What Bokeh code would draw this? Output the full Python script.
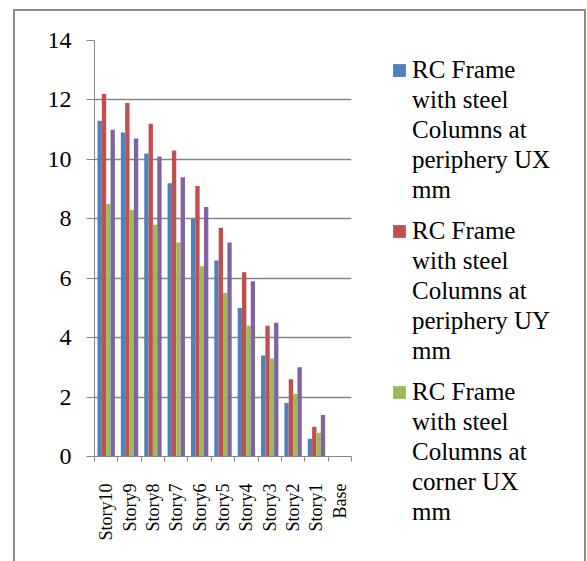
import numpy as np
from bokeh.plotting import figure
from bokeh.layouts import row
from bokeh.models import FixedTicker, Range1d, Legend, LegendItem
from bokeh.embed import file_html
from bokeh.resources import INLINE

# ---- data ----
stories = ["Story10", "Story9", "Story8", "Story7", "Story6", "Story5",
           "Story4", "Story3", "Story2", "Story1", "Base"]
ux_periphery = [11.3, 10.9, 10.2, 9.2, 8.0, 6.6, 5.0, 3.4, 1.8, 0.6, 0.0]
uy_periphery = [12.2, 11.9, 11.2, 10.3, 9.1, 7.7, 6.2, 4.4, 2.6, 1.0, 0.0]
ux_corner = [8.5, 8.3, 7.8, 7.2, 6.4, 5.5, 4.4, 3.3, 2.1, 0.8, 0.0]
uy_corner = [11.0, 10.7, 10.1, 9.4, 8.4, 7.2, 5.9, 4.5, 3.0, 1.4, 0.0]
series = [ux_periphery, uy_periphery, ux_corner, uy_corner]
colors = ["#4F81BD", "#C0504D", "#9BBB59", "#8064A2"]
legend_lines = [
    ["RC Frame", "with steel", "Columns at", "periphery UX", "mm"],
    ["RC Frame", "with steel", "Columns at", "periphery UY", "mm"],
    ["RC Frame", "with steel", "Columns at", "corner UX", "mm"],
]
y_ticks = [0, 2, 4, 6, 8, 10, 12, 14]

FONT = "Liberation Serif"
GRAY = "#868686"
H = 550

n = len(stories)
centers = [i + 0.5 for i in range(n)]
bar_w = 0.186
offsets = [(-1.5 + k) * bar_w for k in range(len(series))]

# ---- bar chart ----
p = figure(width=338, height=H, output_backend="svg", toolbar_location=None,
           x_range=Range1d(0, n), y_range=Range1d(0, 14),
           min_border_left=79, min_border_right=2,
           min_border_top=29, min_border_bottom=105)
p.outline_line_color = None
p.background_fill_color = "white"
p.border_fill_color = "white"

for vals, off, col in zip(series, offsets, colors):
    p.vbar(x=[c + off for c in centers], top=vals, bottom=0, width=bar_w,
           fill_color=col, line_color=None)

# y axis
p.yaxis.ticker = FixedTicker(ticks=y_ticks)
p.yaxis.axis_line_color = GRAY
p.yaxis.major_tick_line_color = GRAY
p.yaxis.major_tick_out = 8
p.yaxis.major_tick_in = 0
p.yaxis.minor_tick_line_color = None
p.yaxis.major_label_text_font = FONT
p.yaxis.major_label_text_font_size = "24px"
p.yaxis.major_label_text_color = "black"
p.yaxis.major_label_standoff = 15

# x axis
p.xaxis.ticker = FixedTicker(ticks=centers, minor_ticks=list(range(n + 1)))
p.xaxis.major_label_overrides = {c: s for c, s in zip(centers, stories)}
p.xaxis.axis_line_color = GRAY
p.xaxis.major_tick_line_color = None
p.xaxis.major_tick_out = 0
p.xaxis.major_tick_in = 0
p.xaxis.minor_tick_line_color = GRAY
p.xaxis.minor_tick_out = 5
p.xaxis.minor_tick_in = 0
p.xaxis.major_label_orientation = np.pi / 2
p.xaxis.major_label_text_font = FONT
p.xaxis.major_label_text_font_size = "18px"
p.xaxis.major_label_text_color = "black"
p.xaxis.major_label_standoff = 22

# grid
p.xgrid.visible = False
p.ygrid.ticker = FixedTicker(ticks=y_ticks)
p.ygrid.grid_line_color = GRAY
p.ygrid.grid_line_width = 1.5

# ---- legend panel ----
q = figure(width=231, height=H, output_backend="svg", toolbar_location=None,
           x_range=Range1d(0, 1), y_range=Range1d(0, 1),
           x_axis_location=None, y_axis_location=None,
           min_border_left=0, min_border_right=0,
           min_border_top=0, min_border_bottom=0)
q.grid.visible = False
q.outline_line_color = None
q.background_fill_color = "white"
q.border_fill_color = "white"

# keep the legend panel's own frame independent of the chart's frame
for fig in (p, q):
    if "frame_align" in fig.properties():
        fig.frame_align = False

# zero-size glyphs that only serve as legend swatches
swatches = [q.vbar(x=[0.5], top=[0], bottom=[0], width=0, fill_color=c, line_color=None)
            for c in colors[:3]]
blank = q.vbar(x=[0.5], top=[0], bottom=[0], width=0, fill_alpha=0, line_alpha=0)

line_h = 30
group_pitch = 161.3
first_top = 43.5          # top of first legend block, px below panel top
for g, lines in enumerate(legend_lines):
    items = [LegendItem(label=txt, renderers=[swatches[g] if k == 0 else blank])
             for k, txt in enumerate(lines)]
    top = first_top + group_pitch * g
    leg = Legend(items=items, location=(38, H - top - line_h * len(lines)),
                 margin=0, padding=0, ncols=1,
                 glyph_width=16, glyph_height=16, label_standoff=5,
                 spacing=0, label_height=line_h,
                 label_text_font=FONT, label_text_font_size="25px",
                 label_text_color="black",
                 border_line_color=None, background_fill_alpha=0)
    q.add_layout(leg, "center")

layout = row(p, q, spacing=0)
layout.styles = {"border-left": "2px solid #8c8c8c", "border-top": "2px solid #8c8c8c",
                 "border-right": "2px solid #8c8c8c",
                 "margin-left": "13px", "margin-top": "9px"}

open("out.html", "w").write(file_html(layout, INLINE))
